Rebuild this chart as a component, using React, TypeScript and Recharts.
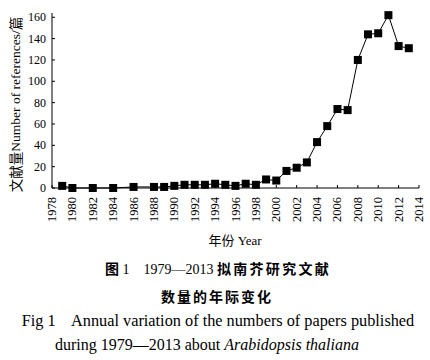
import React from 'react';
import { LineChart, Line, XAxis, YAxis } from 'recharts';

const years = [1979, 1980, 1982, 1984, 1986, 1988, 1989, 1990, 1991, 1992, 1993, 1994, 1995, 1996, 1997, 1998, 1999, 2000, 2001, 2002, 2003, 2004, 2005, 2006, 2007, 2008, 2009, 2010, 2011, 2012, 2013];
const counts = [2, 0, 0, 0, 1, 1, 1, 2, 3, 3, 3, 4, 3, 2, 4, 3, 8, 7, 16, 19, 24, 43, 58, 74, 73, 120, 144, 145, 162, 133, 131];
const yearTicks = [1978, 1980, 1982, 1984, 1986, 1988, 1990, 1992, 1994, 1996, 1998, 2000, 2002, 2004, 2006, 2008, 2010, 2012, 2014];
const countTicks = [0, 20, 40, 60, 80, 100, 120, 140, 160];

const data = years.map((y, i) => ({ year: y, count: counts[i] }));

const serif = '"Liberation Serif", "DejaVu Serif", serif';
const cjk = '"Noto Sans CJK SC", sans-serif';

function YearTick(props: any) {
  const { x, y, payload } = props;
  return (
    <g>
      <line x1={x} y1={y} x2={x} y2={y - 3} stroke="#000" strokeWidth={1} />
      <text
        x={x}
        y={y + 9}
        transform={`rotate(-90, ${x}, ${y + 9})`}
        textAnchor="end"
        dominantBaseline="central"
        fontFamily={serif}
        fontSize={12.5}
        fill="#000"
      >
        {payload.value}
      </text>
    </g>
  );
}

function CountTick(props: any) {
  const { x, y, payload } = props;
  return (
    <g>
      <line x1={x} y1={y} x2={x + 3} y2={y} stroke="#000" strokeWidth={1} />
      <text x={x - 6} y={y} textAnchor="end" dominantBaseline="central" fontFamily={serif} fontSize={12} fill="#000">
        {payload.value}
      </text>
    </g>
  );
}

function SquareDot(props: any) {
  const { cx, cy } = props;
  if (cx == null || cy == null) return null;
  return <rect x={cx - 4} y={cy - 4} width={8} height={8} fill="#000" />;
}

function YTitle(props: any) {
  const { viewBox } = props;
  const cx = viewBox.x + 15;
  const cy = viewBox.y + viewBox.height / 2 + 4;
  return (
    <text x={cx} y={cy} transform={`rotate(-90, ${cx}, ${cy})`} textAnchor="middle" dominantBaseline="central" fontSize={13.5} fill="#000">
      <tspan fontFamily={cjk}>文献量</tspan>
      <tspan fontFamily={serif}>Number of references/</tspan>
      <tspan fontFamily={cjk}>篇</tspan>
    </text>
  );
}

export default function App() {
  return (
    <div style={{ position: 'absolute', left: 0, top: 0, width: 430, height: 360, background: '#fff' }}>
      <LineChart width={430} height={235} data={data} margin={{ top: 13, right: 11, bottom: 7, left: 0 }}>
        <XAxis
          dataKey="year"
          type="number"
          domain={[1978, 2014]}
          ticks={yearTicks}
          interval={0}
          stroke="#000"
          tickLine={false}
          tickSize={0}
          tickMargin={0}
          height={40}
          tick={<YearTick />}
        />
        <YAxis
          type="number"
          domain={[0, 164]}
          ticks={countTicks}
          interval={0}
          stroke="#000"
          tickLine={false}
          tickSize={0}
          tickMargin={0}
          width={52}
          tick={<CountTick />}
          label={<YTitle />}
        />
        <Line
          dataKey="count"
          type="linear"
          stroke="#000"
          strokeWidth={1}
          dot={<SquareDot />}
          isAnimationActive={false}
        />
      </LineChart>
      <div style={{ position: 'absolute', left: 0, width: 470, top: 231, textAlign: 'center', fontSize: 13, lineHeight: '18px' }}>
        <span style={{ fontFamily: cjk }}>年份</span>
        <span style={{ fontFamily: serif }}> Year</span>
      </div>
      <div style={{ position: 'absolute', left: 0, width: 436, top: 258, textAlign: 'center', fontSize: 14, lineHeight: '20px', whiteSpace: 'nowrap' }}>
        <span style={{ fontFamily: cjk, fontWeight: 600 }}>图</span>
        <span style={{ fontFamily: serif }}> 1&nbsp;&nbsp;&nbsp; 1979—2013 </span>
        <span style={{ fontFamily: cjk, fontWeight: 600, letterSpacing: 2.3 }}>拟南芥研究文献</span>
      </div>
      <div style={{ position: 'absolute', left: 0, width: 434, top: 286, textAlign: 'center', fontSize: 14, lineHeight: '20px', fontFamily: cjk, fontWeight: 600, letterSpacing: 2 }}>
        数量的年际变化
      </div>
      <div style={{ position: 'absolute', left: 0, width: 436, top: 311, textAlign: 'center', fontSize: 16.3, lineHeight: '20px', fontFamily: serif, whiteSpace: 'nowrap' }}>
        Fig 1&nbsp;&nbsp;&nbsp; Annual variation of the numbers of papers published
      </div>
      <div style={{ position: 'absolute', left: 0, width: 414, top: 335, textAlign: 'center', fontSize: 16, lineHeight: '20px', fontFamily: serif, whiteSpace: 'nowrap' }}>
        during 1979—2013 about <i>Arabidopsis thaliana</i>
      </div>
    </div>
  );
}
